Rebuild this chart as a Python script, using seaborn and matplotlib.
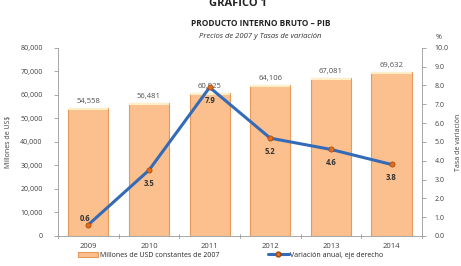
import matplotlib
matplotlib.use("Agg")
import matplotlib.pyplot as plt
import seaborn as sns
import pandas as pd
from matplotlib import patches
from matplotlib.lines import Line2D

years = ["2009", "2010", "2011", "2012", "2013", "2014"]
pib = [54558, 56481, 60925, 64106, 67081, 69632]
tasa = [0.6, 3.5, 7.9, 5.2, 4.6, 3.8]

df = pd.DataFrame({"year": years, "pib": pib, "tasa": tasa})

sns.set_style("white")
plt.rcParams["font.family"] = ["Open Sans", "DejaVu Sans"]

fig = plt.figure(figsize=(4.61, 2.66), dpi=100)
ax = fig.add_axes([0.126, 0.113, 0.789, 0.707])

bar_col = "#FBC08E"
edge_col = "#E5995A"
line_col = "#346BB8"
txt = "#404040"

sns.barplot(data=df, x="year", y="pib", color=bar_col, width=0.66,
            edgecolor=edge_col, linewidth=0.8, saturation=1, ax=ax)
for p in ax.patches:
    h = p.get_height()
    ax.add_patch(patches.Rectangle((p.get_x(), h - 900), p.get_width(), 900,
                                   facecolor="#FFEFC8", edgecolor="none", zorder=3))
    ax.text(p.get_x() + p.get_width() / 2, h + 1200, f"{int(h):,}",
            ha="center", va="bottom", fontsize=5.5, color="#505050")

ax.set_ylim(0, 80000)
ax.set_yticks(range(0, 80001, 10000))
ax.set_yticklabels([f"{v:,}" for v in range(0, 80001, 10000)], fontsize=5, color=txt)
ax.set_xlabel("")
ax.set_ylabel("Millones de US$", fontsize=5, color=txt)
ax.yaxis.set_label_coords(-0.128, 0.5)
ax.tick_params(axis="x", labelsize=5.5, colors=txt, length=0, pad=5)
ax.tick_params(axis="y", length=3, width=0.6, color="#999999", pad=8)
for s in ["top", "right"]:
    ax.spines[s].set_visible(False)
ax.spines["left"].set_color("#999999")
ax.spines["bottom"].set_color("#999999")
ax.spines["left"].set_linewidth(0.6)
ax.spines["bottom"].set_linewidth(0.6)
for k in range(7):
    ax.plot([k - 0.5, k - 0.5], [-900, 900], color="#999999", lw=0.6, clip_on=False)

ax2 = ax.twinx()
sns.pointplot(data=df, x="year", y="tasa", color=line_col, linewidth=2.2,
              markers="o", markersize=0, ax=ax2)
ax2.scatter(range(len(years)), tasa, s=14, color="#E36C1A", edgecolor="#A0460E",
            linewidth=0.5, zorder=5)
for i, v in enumerate(tasa):
    if i == 0:
        ax2.text(i - 0.05, v + 0.35, f"{v}", ha="center", va="center", fontsize=5.5,
                 fontweight="bold", color="#333333", zorder=4)
    else:
        ax2.text(i, v - 0.45, f"{v}", ha="center", va="top", fontsize=5.5,
                 fontweight="bold", color="#333333")
ax2.set_ylim(0, 10)
ax2.set_xlim(-0.5, 5.5)
ax2.set_yticks([i for i in range(11)])
ax2.set_yticklabels([f"{v:.1f}" for v in range(11)], fontsize=5, color=txt)
ax2.set_ylabel("Tasa de variación", fontsize=5, color=txt)
ax2.yaxis.set_label_coords(1.09, 0.5)
ax2.tick_params(axis="y", length=3, width=0.6, color="#999999", pad=6)
for s in ["top", "left", "bottom"]:
    ax2.spines[s].set_visible(False)
ax2.spines["right"].set_color("#999999")
ax2.spines["right"].set_linewidth(0.6)
ax2.text(1.045, 1.035, "%", transform=ax2.transAxes, fontsize=5, color=txt,
         ha="center", va="bottom")

fig.text(0.516, 0.985, "GRAFICO 1", ha="center", va="center", fontsize=8,
         fontweight="bold", color="#222222")
fig.text(0.565, 0.91, "PRODUCTO INTERNO BRUTO – PIB", ha="center", va="center",
         fontsize=6, fontweight="bold", color="#222222")
fig.text(0.565, 0.862, "Precios de 2007 y Tasas de variación", ha="center",
         va="center", fontsize=5.5, style="italic", color="#333333")

h1 = patches.Patch(facecolor=bar_col, edgecolor=edge_col, linewidth=0.8)
h2 = Line2D([0], [0], color=line_col, lw=2.2, marker="o", markersize=3.5,
            markerfacecolor="#E36C1A", markeredgecolor="#A0460E")
fig.legend([h1, h2], ["Millones de USD constantes de 2007", "Variación anual, eje derecho"],
           loc="center", bbox_to_anchor=(0.5, 0.04), ncol=2, frameon=False,
           fontsize=5, handlelength=3, columnspacing=7, handletextpad=0.2)

fig.savefig("out.png", dpi=100)
